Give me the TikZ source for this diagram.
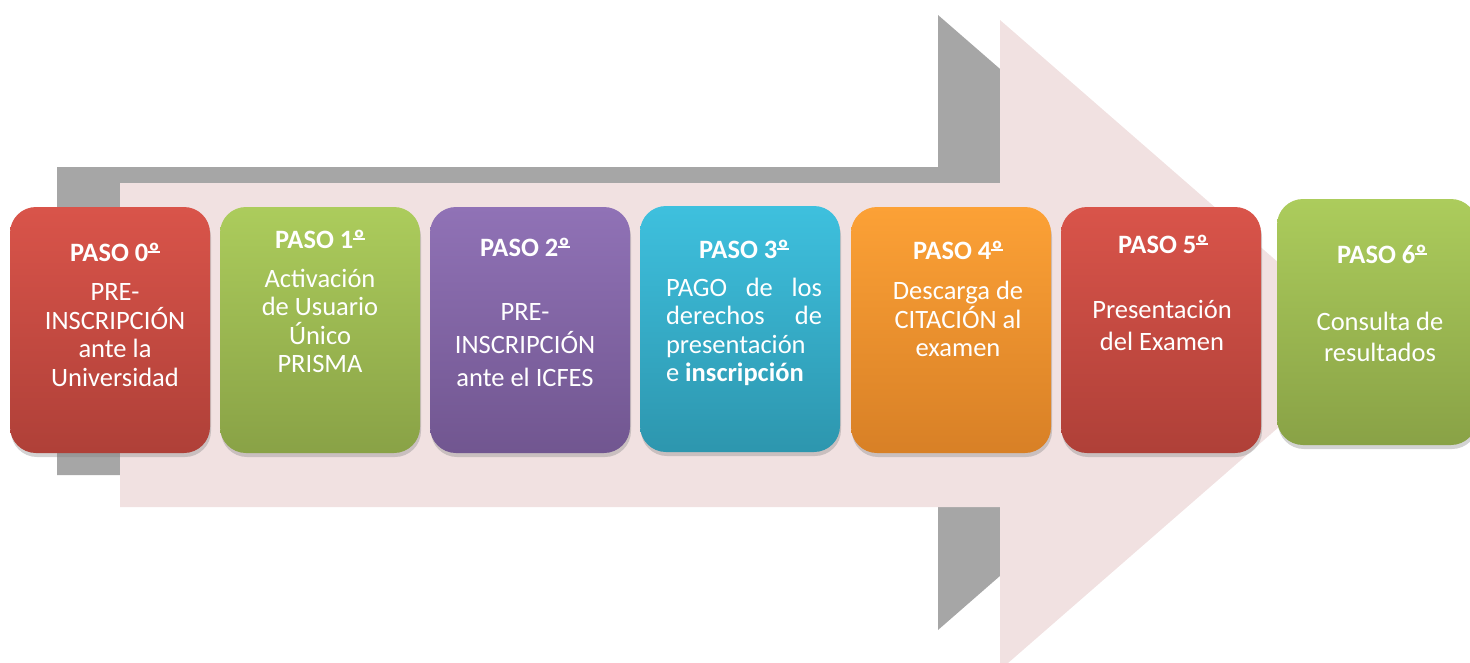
\documentclass[tikz,border=0pt]{standalone}
\usepackage{fontspec}
\setmainfont{Carlito}
\usetikzlibrary{shadows}
\definecolor{pinkarrow}{RGB}{241,225,225}
\definecolor{greyshadow}{RGB}{166,166,166}
\definecolor{redT}{RGB}{217,84,74}
\definecolor{redB}{RGB}{175,64,56}
\definecolor{greenT}{RGB}{172,204,92}
\definecolor{greenB}{RGB}{137,162,70}
\definecolor{purpleT}{RGB}{144,114,182}
\definecolor{purpleB}{RGB}{113,86,144}
\definecolor{cyanT}{RGB}{62,192,222}
\definecolor{cyanB}{RGB}{45,150,174}
\definecolor{orangeT}{RGB}{252,161,54}
\definecolor{orangeB}{RGB}{216,128,38}
\newcommand\ordbar{\setbox0\hbox{º}\rlap{\rule[0.3em]{\wd0}{0.07em}}\box0}
\tikzset{
  stepbox/.style={minimum width=200pt, minimum height=246pt, inner sep=0pt,
    rounded corners=26pt, shading=axis,
    drop shadow={opacity=0.35, shadow xshift=1pt, shadow yshift=-4pt}},
  titletext/.style={text=white, inner sep=0pt, font=\fontsize{26.5}{30}\selectfont\bfseries},
  bodytext/.style={text=white, inner sep=0pt, align=center, font=\fontsize{26.5}{#1}\selectfont},
}
\begin{document}
\begin{tikzpicture}[x=1pt,y=-1pt]
\useasboundingbox (0,0) rectangle (1470,662);
\clip (0,0) rectangle (1470,662);
% grey shadow arrow
\fill[greyshadow]
  (57,167) -- (938,167) -- (938,15) -- (1291,322) -- (938,630) -- (938,475) -- (57,475) -- cycle;
% pink arrow
\fill[pinkarrow]
  (120,183) -- (1000,183) -- (1000,20) -- (1373,345) -- (1000,670) -- (1000,507) -- (120,507) -- cycle;
% boxes
\node[stepbox, top color=redT, bottom color=redB] (b0) at (110,330) {};
\node[stepbox, top color=greenT, bottom color=greenB] (b1) at (320,330) {};
\node[stepbox, top color=purpleT, bottom color=purpleB] (b2) at (530,330) {};
\node[stepbox, top color=cyanT, bottom color=cyanB] (b3) at (740,329) {};
\node[stepbox, top color=orangeT, bottom color=orangeB] (b4) at (951,330) {};
\node[stepbox, top color=redT, bottom color=redB] (b5) at (1161,330) {};
\node[stepbox, top color=greenT, bottom color=greenB] (b6) at (1377,322) {};
% titles
\node[titletext] (t0) at (115,252) {PASO 0\ordbar};
\node[titletext] (t1) at (320,239) {PASO 1\ordbar};
\node[titletext] (t2) at (525,247) {PASO 2\ordbar};
\node[titletext] (t3) at (744,249) {PASO 3\ordbar};
\node[titletext] (t4) at (958,250) {PASO 4\ordbar};
\node[titletext] (t5) at (1163,244) {PASO 5\ordbar};
\node[titletext] (t6) at (1382,254) {PASO 6\ordbar};
% bodies
\node[bodytext=28.5] (x0) at (115,335) {PRE-\\INSCRIPCIÓN\\ante la\\Universidad};
\node[bodytext=28.5] (x1) at (320,321) {Activación\\de Usuario\\Único\\PRISMA};
\node[bodytext=33] (x2) at (525,345) {PRE-\\INSCRIPCIÓN\\ante el ICFES};
\node[bodytext=28.5, align=left] (x3) at (744,332) {\hbox to 156pt{PAGO\hfill de\hfill los}\\\hbox to 156pt{derechos\hfill de}\\presentación\\e \textbf{inscripción}};
\node[bodytext=28.5] (x4) at (958,319) {Descarga de\\CITACIÓN al\\examen};
\node[bodytext=32] (x5) at (1162,325) {Presentación\\del Examen};
\node[bodytext=31] (x6) at (1380,337) {Consulta de\\resultados};
\end{tikzpicture}
\end{document}
